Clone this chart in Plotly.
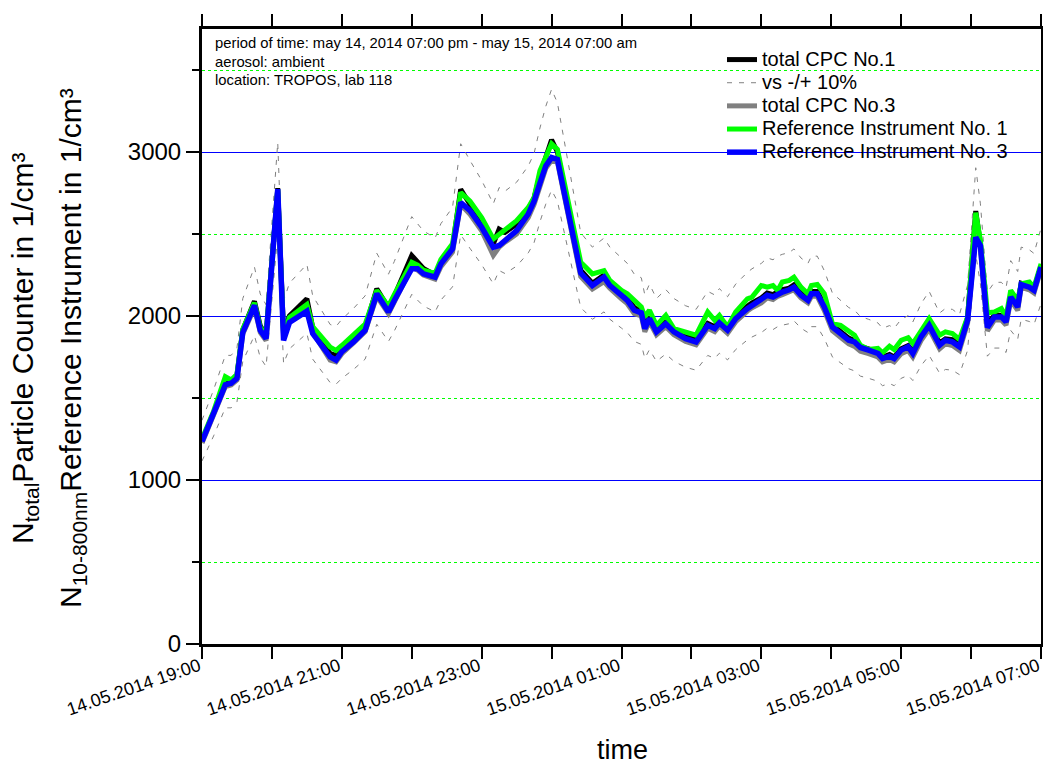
import pandas as pd
import plotly.graph_objects as go

# minutes after 14.05.2014 19:00 of the plotted vertices
minutes = [0, 10, 20, 25, 30, 35, 45, 50, 55, 65, 70, 75, 90, 95, 110, 115, 120, 130, 140, 150, 160, 165, 180,
           185, 190, 200, 205, 215, 222, 230, 240, 250, 255, 260, 270, 280, 285, 290, 295, 300, 305, 325, 335, 345, 350, 360,
           365, 371, 377, 380, 384, 390, 398, 405, 415, 424, 434, 440, 444, 451, 458, 468, 472, 480, 485, 490, 494, 498, 504, 508, 514, 520, 523, 528, 534,
           541, 548, 555, 560, 565, 572, 580, 584, 590, 594, 600, 606, 610, 617, 624, 633, 638, 644, 650, 657, 664, 668, 674, 680, 686, 690, 694, 700, 703, 710, 714, 720]

cpc1 = [1240, 1410, 1600, 1600, 1640, 1915, 2090, 1940, 1880, 2780, 1900, 2000, 2105, 1930, 1771, 1760, 1800, 1860, 1930, 2166, 2050, 2120, 2369,
        2330, 2290, 2250, 2330, 2420, 2773, 2680, 2570, 2440, 2530, 2510, 2560, 2650, 2720, 2860, 2980, 3075, 3000, 2280, 2200, 2250, 2200, 2140,
        2110, 2050, 2030, 1935, 1995, 1915, 1965, 1915, 1875, 1855, 1955, 1935, 1970, 1925, 1995, 2060, 2080, 2110, 2140, 2130, 2150, 2160, 2170, 2190, 2140, 2110, 2150, 2150, 2070,
        1945, 1905, 1865, 1850, 1815, 1800, 1780, 1750, 1765, 1750, 1800, 1820, 1785, 1885, 1955, 1835, 1860, 1855, 1825, 1990, 2640, 2440, 1950, 2005, 2005, 1975, 2125, 2065, 2200, 2185, 2165, 2305]

cpc3 = [1225, 1395, 1570, 1580, 1610, 1890, 2050, 1900, 1850, 2760, 1870, 1975, 2060, 1900, 1731, 1720, 1770, 1835, 1905, 2120, 2015, 2085, 2300,
        2280, 2250, 2225, 2300, 2390, 2680, 2620, 2520, 2370, 2420, 2450, 2500, 2600, 2680, 2790, 2900, 2950, 2940, 2240, 2165, 2210, 2170, 2105,
        2075, 2015, 2000, 1905, 1965, 1885, 1935, 1885, 1845, 1825, 1925, 1905, 1940, 1895, 1965, 2030, 2050, 2080, 2110, 2100, 2120, 2130, 2145, 2160, 2110, 2080, 2120, 2120, 2035,
        1910, 1870, 1830, 1815, 1785, 1770, 1750, 1720, 1735, 1720, 1770, 1790, 1750, 1850, 1920, 1800, 1830, 1820, 1790, 1955, 2500, 2420, 1910, 1975, 1975, 1945, 2095, 2035, 2175, 2160, 2140, 2285]

ref1 = [1250, 1420, 1630, 1610, 1645, 1920, 2080, 1930, 1890, 2770, 1880, 1990, 2070, 1935, 1810, 1790, 1820, 1890, 1950, 2156, 2060, 2130, 2328,
        2310, 2280, 2260, 2345, 2440, 2753, 2700, 2600, 2470, 2500, 2530, 2581, 2662, 2723, 2885, 2960, 3050, 3017, 2328, 2257, 2277, 2217, 2156,
        2136, 2095, 2055, 1994, 2035, 1943, 2004, 1923, 1903, 1883, 2024, 1974, 2004, 1933, 2024, 2105, 2115, 2186, 2176, 2186, 2156, 2207, 2217, 2237, 2176, 2136, 2186, 2192, 2136,
        1953, 1943, 1903, 1883, 1822, 1796, 1802, 1776, 1816, 1796, 1852, 1868, 1832, 1913, 1984, 1883, 1903, 1893, 1857, 1994, 2630, 2460, 2020, 2024, 2045, 1994, 2156, 2095, 2196, 2207, 2176, 2318]

ref3 = [1235, 1400, 1580, 1590, 1620, 1900, 2065, 1913, 1862, 2773, 1852, 1960, 2030, 1893, 1751, 1731, 1782, 1842, 1913, 2136, 2024, 2095, 2288,
        2288, 2257, 2237, 2318, 2409, 2692, 2642, 2541, 2419, 2430, 2460, 2520, 2622, 2700, 2810, 2915, 2966, 2955, 2262, 2186, 2237, 2186, 2126,
        2095, 2035, 2019, 1923, 1984, 1903, 1953, 1903, 1862, 1842, 1943, 1923, 1957, 1913, 1984, 2045, 2065, 2095, 2126, 2116, 2136, 2146, 2160, 2176, 2126, 2095, 2136, 2136, 2055,
        1933, 1893, 1852, 1842, 1808, 1792, 1772, 1741, 1755, 1741, 1792, 1812, 1772, 1873, 1943, 1822, 1852, 1842, 1812, 1974, 2480, 2429, 1930, 1994, 1994, 1964, 2116, 2055, 2192, 2176, 2156, 2298]

assert len(minutes) == len(cpc1) == len(cpc3) == len(ref1) == len(ref3)

TOLERANCE = 0.10  # the "vs -/+ 10%" band around total CPC No.1
START = "2014-05-14 19:00"
END = "2014-05-15 07:00"

series_names = ["total CPC No.1", "vs -/+ 10%", "total CPC No.3",
                "Reference Instrument No. 1", "Reference Instrument No. 3"]
info_lines = ["period of time: may 14, 2014 07:00 pm - may 15, 2014 07:00 am",
              "aerosol: ambient",
              "location: TROPOS, lab 118"]
ytitle_lines = ["N<sub>total</sub>Particle Counter in 1/cm³",
                "N<sub>10-800nm</sub>Reference Instrument in 1/cm³"]

times = pd.Timestamp(START) + pd.to_timedelta(minutes, unit="min")
upper = [v * (1 + TOLERANCE) for v in cpc1]
lower = [v * (1 - TOLERANCE) for v in cpc1]

FONT = "Liberation Sans, Arial, sans-serif"
W, H = 1043, 769
L, R, T, B = 202, 2, 29, 125
PW, PH = W - L - R, H - T - B


def lg(name):
    return '<span style="font-size:20px">' + name + '</span>'


fig = go.Figure()
fig.add_trace(go.Scatter(x=times, y=cpc1, mode="lines", name=lg(series_names[0]),
                         line=dict(color="black", width=5)))
fig.add_trace(go.Scatter(x=times, y=upper, mode="lines", name=lg(series_names[1]), legendgroup="tol",
                         line=dict(color="#808080", width=1, dash="5px,7px")))
fig.add_trace(go.Scatter(x=times, y=lower, mode="lines", name=lg(series_names[1]), legendgroup="tol",
                         showlegend=False, line=dict(color="#808080", width=1, dash="5px,7px")))
fig.add_trace(go.Scatter(x=times, y=cpc3, mode="lines", name=lg(series_names[2]),
                         line=dict(color="#808080", width=5)))
fig.add_trace(go.Scatter(x=times, y=ref1, mode="lines", name=lg(series_names[3]),
                         line=dict(color="#00FF00", width=5)))
fig.add_trace(go.Scatter(x=times, y=ref3, mode="lines", name=lg(series_names[4]),
                         line=dict(color="#0000FF", width=5.5)))

fig.update_xaxes(
    range=[START, END], automargin=False,
    tickmode="linear", tick0=START, dtick=2 * 3600 * 1000,
    tickformat="%d.%m.%Y %H:%M", tickangle=-19,
    tickfont=dict(family=FONT, size=18, color="black"),
    ticklabelstandoff=-10, ticklabeloverflow="allow", ticklabelshift=-3,
    ticks="outside", ticklen=12, tickwidth=2, tickcolor="black",
    minor=dict(dtick=3600 * 1000, ticks="outside", ticklen=7, tickwidth=2, tickcolor="black", showgrid=False),
    showline=True, linewidth=3, linecolor="black", mirror="allticks",
    showgrid=False, zeroline=False,
)
fig.update_layout(
    yaxis=dict(
        range=[0, 3750], automargin=False, tickmode="linear", tick0=0, dtick=1000,
        tickfont=dict(family=FONT, size=24, color="black"),
        ticks="outside", ticklen=13, tickwidth=2, tickcolor="black",
        showgrid=True, gridcolor="#0000FF", gridwidth=1,
        minor=dict(dtick=500, ticks="outside", ticklen=7, tickwidth=2, tickcolor="black", showgrid=False),
        showline=True, linewidth=3, linecolor="black", mirror=True,
        zeroline=False,
    ),
    yaxis2=dict(
        range=[0, 3750], overlaying="y", side="left", automargin=False,
        tickmode="linear", tick0=500, dtick=1000, showticklabels=False, ticks="",
        showgrid=True, gridcolor="#00FF00", griddash="dot", gridwidth=1,
        showline=False, zeroline=False,
    ),
)
# invisible anchor trace so the dotted-grid axis is drawn
fig.add_trace(go.Scatter(x=[times[0]], y=[ref3[0]], yaxis="y2", mode="markers",
                         marker=dict(opacity=0), showlegend=False, hoverinfo="skip"))

ann = []
for i, txt in enumerate(info_lines):
    ann.append(dict(text=txt, xref="paper", yref="paper",
                    x=(213 - L) / PW, y=(H - B - [43, 62, 80][i]) / PH,
                    xanchor="left", yanchor="middle", showarrow=False,
                    font=dict(family=FONT, size=14.8, color="black")))
for txt, cx in zip(ytitle_lines, [24, 72]):
    ann.append(dict(text=txt, xref="paper", yref="paper",
                    x=(cx - L) / PW, y=(H - B - 348) / PH,
                    xanchor="center", yanchor="middle", textangle=-90, showarrow=False,
                    font=dict(family=FONT, size=30, color="black")))
ann.append(dict(text="time", xref="paper", yref="paper",
                x=(622 - L) / PW, y=(H - B - 750) / PH,
                xanchor="center", yanchor="middle", showarrow=False,
                font=dict(family=FONT, size=27, color="black")))

fig.update_layout(
    width=W, height=H,
    margin=dict(l=L, r=R, t=T, b=B),
    paper_bgcolor="white", plot_bgcolor="white",
    showlegend=True,
    legend=dict(x=(722 - L) / PW, y=(H - B - 43) / PH, xanchor="left", yanchor="top",
                bgcolor="rgba(0,0,0,0)", borderwidth=0,
                font=dict(family=FONT, size=15.5, color="black"),
                tracegroupgap=0, itemwidth=30),
    annotations=ann,
)

fig.write_html("out.html", config={"displayModeBar": False},
               post_script="document.body.style.margin='0';document.body.style.overflow='hidden';")
